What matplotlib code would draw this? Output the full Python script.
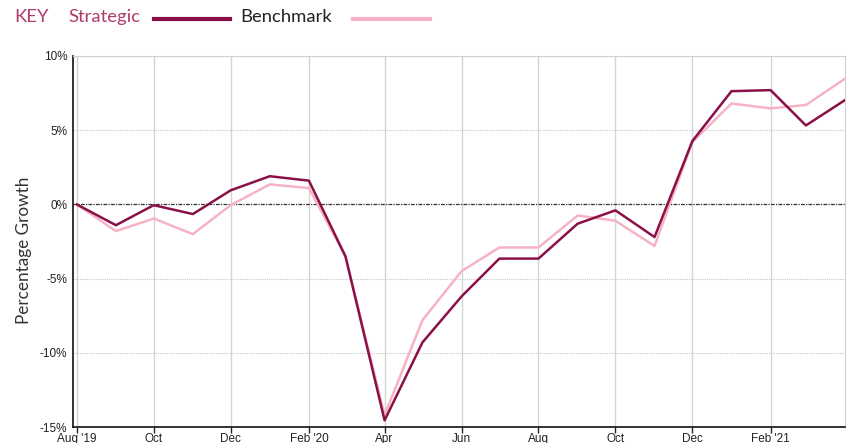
import numpy as np
import pandas as pd
import matplotlib.pyplot as plt
import matplotlib.dates as mdates
from matplotlib.lines import Line2D

# ------------------------------------------------------------
# data (monthly, Aug 2019 - Apr 2021), percentage growth
# ------------------------------------------------------------
months = pd.date_range('2019-08-01', '2021-04-01', freq='MS')

strategic = [0.0, -1.4, -0.05, -0.65, 0.95, 1.9, 1.6, -3.5, -14.55, -9.3, -6.2,
             -3.65, -3.65, -1.3, -0.4, -2.2, 4.27, 7.63, 7.7, 5.32, 7.03]
benchmark = [0.0, -1.8, -0.95, -2.0, -0.05, 1.35, 1.1, -3.5, -14.2, -7.8, -4.5,
             -2.9, -2.9, -0.75, -1.1, -2.8, 4.2, 6.8, 6.47, 6.7, 8.47]

tick_dates = pd.date_range('2019-08-01', '2021-02-01', freq='2MS')
tick_labels = ["Aug '19", 'Oct', 'Dec', "Feb '20", 'Apr', 'Jun', 'Aug', 'Oct', 'Dec', "Feb '21"]
y_ticks = [-15, -10, -5, 0, 5, 10]

C_STRAT = '#8a1148'
C_BENCH = '#f7b3c6'
C_KEY = '#b03a6a'

plt.rcParams['font.family'] = ['Liberation Sans', 'DejaVu Sans']

fig = plt.figure(figsize=(8.49, 4.43), dpi=100)
ax = fig.add_axes([0.086, 0.036, 0.9093, 0.8376])

ax.plot(months, benchmark, color=C_BENCH, lw=1.8, zorder=3)
ax.plot(months, strategic, color=C_STRAT, lw=1.8, zorder=4)

ax.set_xlim(pd.Timestamp('2019-07-29'), pd.Timestamp('2021-04-01'))
ax.set_ylim(-15, 10)

ax.set_xticks(tick_dates)
ax.set_xticklabels(tick_labels, fontsize=8.5, color='#222222')
ax.set_yticks(y_ticks)
ax.set_yticklabels([f'{v}%' for v in y_ticks], fontsize=8.5, color='#222222')
ax.tick_params(axis='x', length=4, width=1, color='#222222', pad=0)
ax.tick_params(axis='y', length=0, pad=4)

# grid: solid vertical, dotted horizontal
for d in tick_dates:
    ax.axvline(d, color='#d4d4d4', lw=1, zorder=1)
for v in [-10, -5, 5]:
    ax.axhline(v, color='#c8c8c8', lw=0.8, ls=(0, (1, 1)), zorder=1)
ax.axhline(0, color='#333333', lw=0.9, ls=(0, (3, 1, 1, 1)), zorder=2)

ax.spines['left'].set_color('#111111')
ax.spines['bottom'].set_color('#111111')
ax.spines['left'].set_linewidth(1.2)
ax.spines['bottom'].set_linewidth(1.2)
for s in ['top', 'right']:
    ax.spines[s].set_color('#d0d0d0')

fig.text(0.028, 0.435, 'Percentage Growth', rotation=90, ha='center', va='center',
         fontsize=12.3, color='#333333', family=['Lato', 'DejaVu Sans'])

# key at the top
KEY_FS = 13.3
fig.text(14 / 849, 1 - 17 / 443, 'KEY', fontsize=KEY_FS, color=C_KEY, va='center',
         family=['Lato', 'DejaVu Sans'])
fig.text(68 / 849, 1 - 17 / 443, 'Strategic', fontsize=KEY_FS, color=C_KEY, va='center',
         family=['Lato', 'DejaVu Sans'])
fig.add_artist(Line2D([154 / 849, 230 / 849], [1 - 19 / 443] * 2, color=C_STRAT, lw=3))
fig.text(240 / 849, 1 - 17 / 443, 'Benchmark', fontsize=KEY_FS, color='#222222', va='center',
         family=['Lato', 'DejaVu Sans'])
fig.add_artist(Line2D([353 / 849, 430 / 849], [1 - 19 / 443] * 2, color=C_BENCH, lw=3))

fig.savefig('out.png', dpi=100)
